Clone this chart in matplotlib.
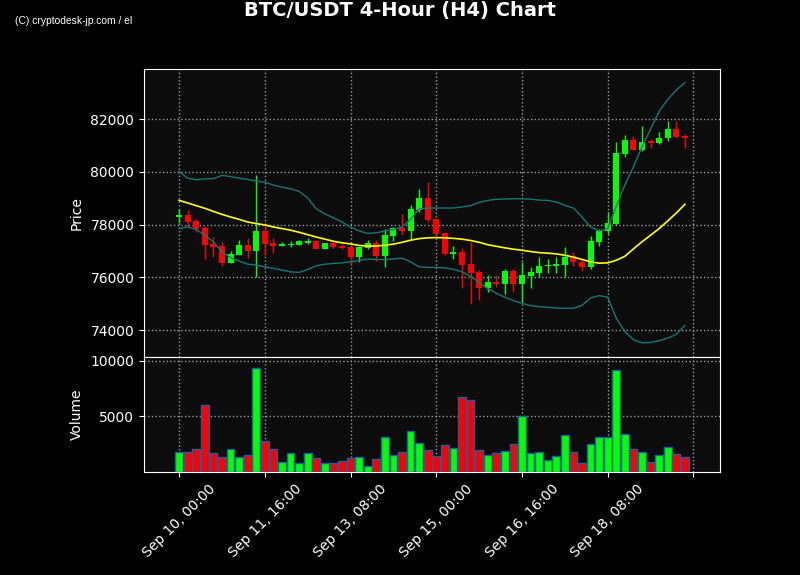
import matplotlib
matplotlib.use('Agg')
import matplotlib.pyplot as plt
import pandas as pd

# ==========================================
# BTC/USDT 4h candles
# ==========================================
dates = pd.date_range('2025-09-10 00:00', periods=60, freq='4h')

opens = [78300, 78350, 78120, 77860, 77260, 77180, 76550, 76860, 77220, 77010,
         77750, 77300, 77200, 77230, 77230, 77320, 77370, 77080, 77300, 77180,
         77140, 76780, 77120, 77300, 76820, 77570, 77890, 77760, 78550, 79010,
         78200, 77670, 76900, 76960, 76500, 76200, 75610, 75840, 75760, 76240,
         75760, 76060, 76180, 76440, 76440, 76480, 76800, 76600, 76390, 77350,
         77760, 78010, 80690, 81220, 80840, 81170, 81080, 81270, 81640, 81370]
highs = [78590, 78570, 78230, 77950, 77530, 77350, 77010, 77430, 77510, 79890,
         78040, 77510, 77350, 77370, 77410, 77500, 77400, 77310, 77350, 77280,
         77180, 77180, 77400, 77430, 77850, 77910, 78390, 78730, 79350, 79600,
         78230, 77720, 77190, 77120, 77330, 76280, 76110, 76080, 76310, 76300,
         76580, 76400, 76770, 76680, 76770, 77170, 76980, 76700, 77580, 77840,
         78470, 81130, 81410, 81360, 81740, 81250, 81510, 81930, 81930, 81420]
lows = [78060, 77910, 77720, 76680, 76780, 76450, 76540, 76840, 76750, 76020,
        76840, 76930, 77180, 77160, 77220, 77250, 77060, 77070, 77130, 77060,
        76500, 76570, 77090, 76620, 76380, 77370, 77620, 77470, 78480, 78100,
        77620, 76840, 76680, 75580, 74980, 75140, 75430, 75650, 75360, 75430,
        75060, 75610, 76010, 76180, 76180, 76000, 76450, 76260, 76300, 77190,
        77650, 77990, 80550, 80830, 80800, 80910, 81040, 81180, 81280, 80910]
closes = [78360, 78090, 77820, 77230, 77160, 76550, 76880, 77220, 76990, 77750,
          77270, 77200, 77270, 77280, 77370, 77370, 77080, 77300, 77160, 77120,
          76780, 77140, 77300, 76820, 77600, 77890, 77760, 78580, 79010, 78160,
          77650, 76890, 76960, 76480, 76180, 75610, 75840, 75760, 76240, 75760,
          76080, 76200, 76450, 76480, 76500, 76780, 76580, 76400, 77370, 77770,
          78050, 80730, 81220, 80840, 81150, 81090, 81300, 81640, 81330, 81270]
volumes = [1790, 1790, 2080, 5980, 1700, 1340, 2050, 1340, 1520, 9380,
           2770, 2050, 860, 1700, 770, 1700, 1250, 770, 770, 980,
           1250, 1340, 540, 1160, 3130, 1520, 1790, 3660, 2590, 1970,
           1410, 2410, 2140, 6700, 6430, 1970, 1520, 1700, 1880, 2500,
           5000, 1700, 1790, 1070, 1430, 3300, 1790, 800, 2500, 3130,
           3130, 9200, 3390, 2050, 1790, 890, 1520, 2230, 1610, 1340]

# Bollinger bands (20, 2) as plotted
bb_mid = [78920, 78820, 78720, 78620, 78500, 78390, 78290, 78200, 78100, 78040,
          77990, 77910, 77850, 77790, 77710, 77620, 77530, 77450, 77370, 77310,
          77270, 77210, 77190, 77190, 77220, 77260, 77330, 77410, 77470, 77500,
          77510, 77500, 77480, 77450, 77400, 77330, 77240, 77180, 77120, 77070,
          77030, 76980, 76940, 76920, 76890, 76840, 76770, 76680, 76590, 76540,
          76550, 76650, 76800, 77080, 77350, 77600, 77850, 78140, 78440, 78770]
bb_upper = [80010, 79760, 79700, 79740, 79740, 79870, 79820, 79760, 79710, 79650,
            79610, 79500, 79420, 79360, 79260, 79010, 78600, 78410, 78260, 78100,
            77910, 77760, 77670, 77690, 77760, 77820, 77910, 78200, 78600, 78630,
            78630, 78630, 78630, 78670, 78720, 78840, 78920, 78960, 78970, 78980,
            78980, 78970, 78930, 78920, 78860, 78730, 78630, 78290, 77910, 77760,
            77850, 78700, 79500, 80190, 80950, 81620, 82300, 82740, 83100, 83380]
bb_lower = [77850, 77910, 77820, 77600, 77350, 76970, 76750, 76620, 76500, 76470,
            76400, 76340, 76280, 76210, 76190, 76300, 76440, 76500, 76530, 76550,
            76590, 76640, 76700, 76680, 76670, 76700, 76730, 76590, 76400, 76380,
            76380, 76360, 76310, 76210, 76050, 75800, 75580, 75400, 75250, 75120,
            75020, 74930, 74890, 74870, 74840, 74830, 74830, 74940, 75220, 75310,
            75250, 74450, 73950, 73640, 73520, 73530, 73600, 73700, 73840, 74180]

UP = '#00ff00'
DOWN = '#ff0000'
BG = '#0c0c0c'

fig = plt.figure(figsize=(8, 5.75), dpi=100, facecolor='black')
ax = fig.add_axes([0.18, 0.379, 0.72, 0.501])
axv = fig.add_axes([0.18, 0.179, 0.72, 0.2], sharex=ax)

x = list(range(len(dates)))
cols = [UP if c >= o else DOWN for o, c in zip(opens, closes)]

# --- candles ---
ax.vlines(x, lows, highs, colors=cols, linewidth=1, zorder=2)
bottoms = [min(o, c) for o, c in zip(opens, closes)]
heights = [max(abs(c - o), 40) for o, c in zip(opens, closes)]
ax.bar(x, heights, bottom=bottoms, width=0.7, color=cols, zorder=3)

# --- bollinger ---
ax.plot(x, bb_upper, color='#107878', linewidth=1, zorder=4)
ax.plot(x, bb_lower, color='#107878', linewidth=1, zorder=4)
ax.plot(x, bb_mid, color='#ffff00', linewidth=1.2, zorder=4)

# --- volume ---
axv.bar(x, volumes, width=0.9, color=cols, edgecolor='#1f5f9f', linewidth=1, zorder=3)
axv.set_ylim(0, max(volumes) * 1.1)
axv.set_yticks([5000, 10000])

ax.set_ylim(72980, 83900)
ax.set_yticks([74000, 76000, 78000, 80000, 82000])
ax.set_xlim(-4.1, 63.1)

tick_pos = list(range(0, 70, 10))
tick_lab = [dates[i].strftime('%b %d, %H:%M') if i < len(dates) else '' for i in tick_pos]
axv.set_xticks(tick_pos)
axv.set_xticklabels(tick_lab, rotation=45)
plt.setp(ax.get_xticklabels(), visible=False)

for a in (ax, axv):
    a.set_facecolor(BG)
    a.grid(True, linestyle=':', color='#9a9a9a', linewidth=1, zorder=0)
    a.set_axisbelow(True)
    a.tick_params(colors='white', labelsize=10)
    for s in a.spines.values():
        s.set_color('white')

ax.set_ylabel('Price', color='white', fontsize=10)
axv.set_ylabel('Volume', color='white', fontsize=10)
ax.yaxis.set_label_coords(-0.104, 0.5)
axv.yaxis.set_label_coords(-0.104, 0.5)

fig.text(0.5, 0.981, 'BTC/USDT 4-Hour (H4) Chart', color='white', fontsize=14,
         fontweight='bold', ha='center', va='center')
fig.text(15 / 800, 1 - 21 / 575, '(C) cryptodesk-jp.com / el', color='white', fontsize=7.4,
         family=['Liberation Sans Narrow', 'Liberation Sans', 'DejaVu Sans'], va='center')

fig.savefig('out.png', dpi=100, facecolor='black')
